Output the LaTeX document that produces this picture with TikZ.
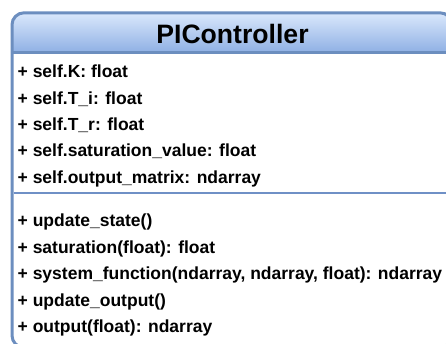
\documentclass[tikz,border=0pt]{standalone}
\usepackage{fontspec}
\setmainfont{Liberation Sans}
\definecolor{umlborder}{HTML}{6C8EBF}
\definecolor{umlsep}{HTML}{6F90C6}
\definecolor{hdtop}{HTML}{DAE8FC}
\definecolor{hdbot}{HTML}{8FB0E4}
\tikzset{
  member/.style={anchor=base west, inner sep=0pt,
    font=\fontsize{17.5}{20}\selectfont\bfseries},
  classtitle/.style={anchor=base, inner sep=0pt,
    font=\fontsize{26.6}{30}\selectfont\bfseries},
}
\begin{document}
\begin{tikzpicture}[x=1pt,y=-1pt]
\useasboundingbox (0,0) rectangle (446,344);
\begin{scope}
\clip (0,0) rectangle (446,344);
% class body
\fill[white, rounded corners=12] (12,12.8) rectangle (452,347.5);
% shaded header
\shade[top color=hdtop, bottom color=hdbot]
  (12,52.5) [rounded corners=12] -- (12,12.8) -- (452,12.8) [sharp corners] -- (452,52.5) -- cycle;
% outline, header rule and compartment rule
\draw[umlborder, line width=3, rounded corners=12] (12,12.8) rectangle (452,347.5);
\draw[umlborder, line width=3] (12,52.5) -- (452,52.5);
\draw[umlsep, line width=2] (13.5,193.5) -- (452,193.5);
\end{scope}
% title
\node[classtitle] (title) at (232.5,43.5) {PIController};
% attributes
\node[member] (a1) at (17.5,78)    {+ self.K: float};
\node[member] (a2) at (17.5,104.3) {+ self.T\_i: float};
\node[member] (a3) at (17.5,130.6) {+ self.T\_r: float};
\node[member] (a4) at (17.5,157)   {+ self.saturation\_value: float};
\node[member] (a5) at (17.5,183.3) {+ self.output\_matrix: ndarray};
% methods
\node[member] (m1) at (17.5,226.5) {+ update\_state()};
\node[member] (m2) at (17.5,253)   {+ saturation(float): float};
\node[member] (m3) at (17.5,279.5) {+ system\_function(ndarray, ndarray, float): ndarray};
\node[member] (m4) at (17.5,306)   {+ update\_output()};
\node[member] (m5) at (17.5,332.5) {+ output(float): ndarray};
\end{tikzpicture}
\end{document}
